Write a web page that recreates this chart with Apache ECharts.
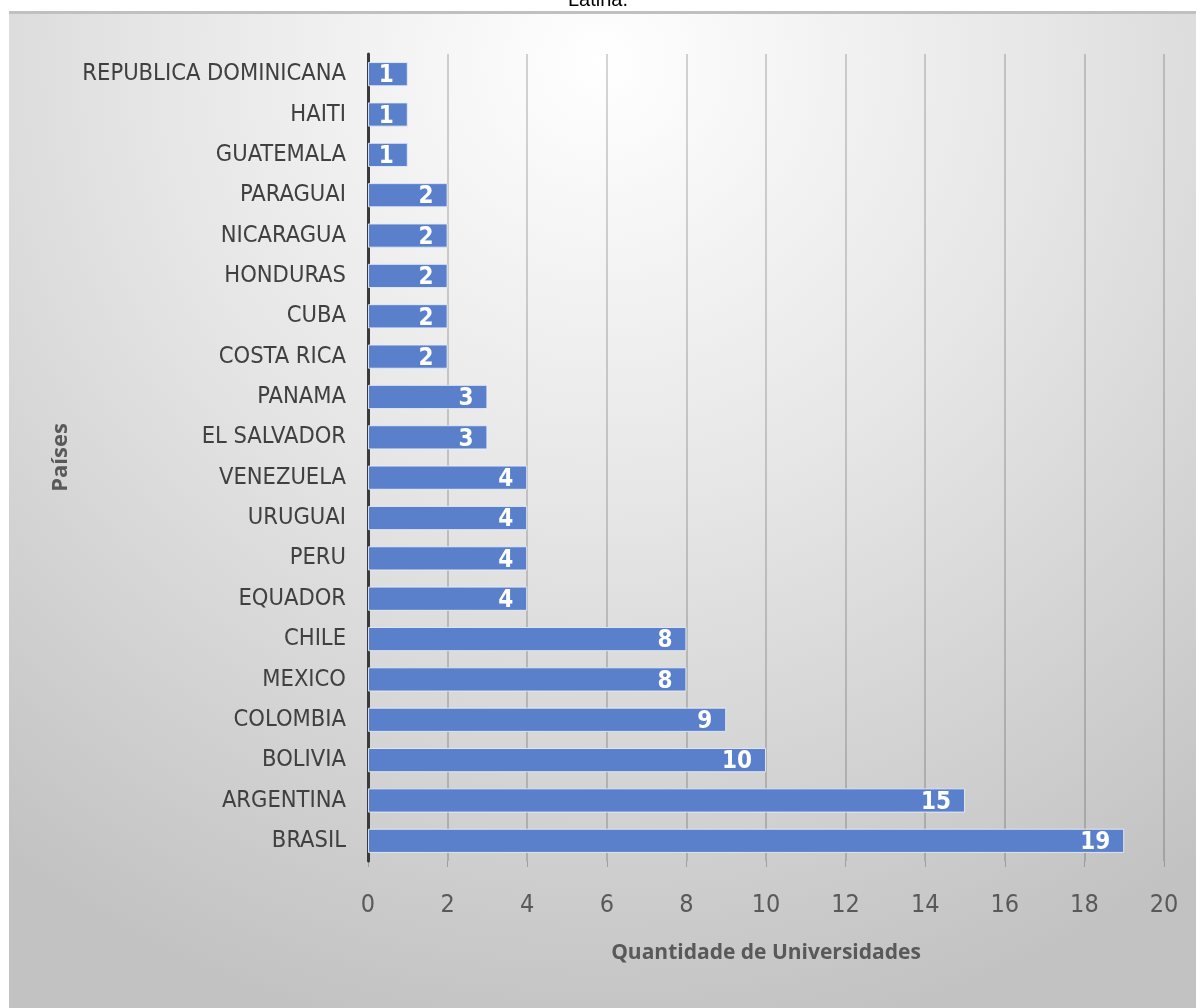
<!DOCTYPE html>
<html><head><meta charset="utf-8">
<script src="https://cdn.jsdelivr.net/npm/echarts@6/dist/echarts.min.js"></script>
<style>html,body{margin:0;padding:0;background:#fff}#c{width:1196px;height:1008px}</style>
</head><body><div id="c"></div>
<script>
const categories = ["REPUBLICA DOMINICANA","HAITI","GUATEMALA","PARAGUAI","NICARAGUA","HONDURAS","CUBA","COSTA RICA","PANAMA","EL SALVADOR","VENEZUELA","URUGUAI","PERU","EQUADOR","CHILE","MEXICO","COLOMBIA","BOLIVIA","ARGENTINA","BRASIL"];
const values = [1,1,1,2,2,2,2,2,3,3,4,4,4,4,8,8,9,10,15,19];
const xTicks = [0,20,2];
const narrow = '"DejaVu Sans Condensed", "Liberation Sans Narrow", sans-serif';
const chart = echarts.init(document.getElementById('c'));
chart.setOption({
  backgroundColor: '#ffffff',
  animation: false,
  graphic: [
    { type: 'rect', z: -10, shape: { x: 9, y: 12, width: 1187, height: 996 },
      style: { fill: new echarts.graphic.RadialGradient(0.5, 0.05, 1.0, [
        { offset: 0, color: '#ffffff' }, { offset: 0.45, color: '#e6e6e6' }, { offset: 1, color: '#c2c2c2' }]) } },
    { type: 'rect', z: -9, shape: { x: 9, y: 11, width: 1187, height: 3 }, style: { fill: '#c0c0c0' } },
    { type: 'text', left: 'center', top: -10, style: { text: 'Latina.', font: '20px "Liberation Sans", Arial', fill: '#000' } }
  ],
  grid: { left: 368, right: 32, top: 54, bottom: 147 },
  xAxis: {
    type: 'value', min: xTicks[0], max: xTicks[1], interval: xTicks[2],
    name: 'Quantidade de Universidades', nameLocation: 'middle', nameGap: 82,
    nameTextStyle: { fontFamily: '"Open Sans", sans-serif', fontWeight: 'bold', fontSize: 21, color: '#595959' },
    axisLine: { show: false },
    axisTick: { show: true, length: 6, lineStyle: { color: 'rgba(0,0,0,0.22)' } },
    axisLabel: { fontFamily: narrow, fontSize: 25, color: '#595959', margin: 32 },
    splitLine: { show: true, lineStyle: { color: 'rgba(0,0,0,0.22)', width: 1.5 } }
  },
  yAxis: {
    type: 'category', data: categories, inverse: true,
    name: 'Países', nameLocation: 'middle', nameGap: 296, nameRotate: 90,
    nameTextStyle: { fontFamily: '"Open Sans", sans-serif', fontWeight: 'bold', fontSize: 22, color: '#595959' },
    axisLine: { show: true, lineStyle: { color: '#3a3a3a', width: 3 } },
    axisTick: { show: false },
    axisLabel: { fontFamily: narrow, fontSize: 23.5, color: '#404040', margin: 22 }
  },
  series: [{
    type: 'bar', data: values, barWidth: '60%',
    itemStyle: { color: '#5a80cb', borderColor: 'rgba(230,236,248,0.9)', borderWidth: 1 },
    label: { show: true, position: 'insideRight', distance: 14, offset: [0, 2], color: '#ffffff', fontFamily: narrow, fontWeight: 'bold', fontSize: 24 }
  }]
});
</script></body></html>
